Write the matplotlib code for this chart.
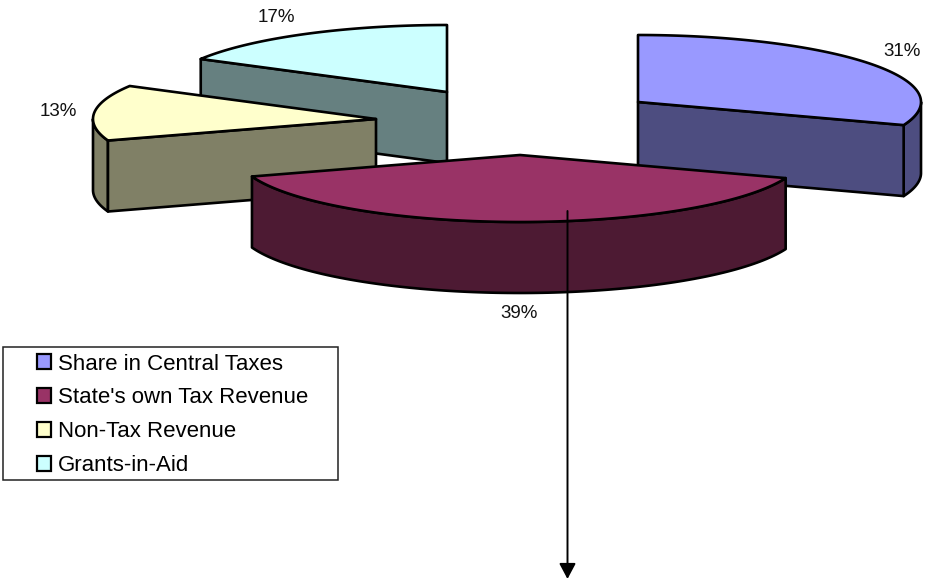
import numpy as np
import matplotlib
matplotlib.use("Agg")
import matplotlib.pyplot as plt
from matplotlib.patches import Polygon, Patch, Rectangle

plt.rcParams['font.family'] = ['Liberation Sans', 'DejaVu Sans']

categories = ["Share in Central Taxes", "State's own Tax Revenue", "Non-Tax Revenue", "Grants-in-Aid"]
values = [30.6, 39.2, 13.4, 16.8]
top_colors = ["#9999FF", "#993366", "#FFFFCC", "#CCFFFF"]
side_colors = ["#4D4D80", "#4D1A33", "#808066", "#668080"]

# apex of every exploded slice, in pixels
apex_x = [638, 520, 376, 447]
apex_y = [102, 155, 119, 92]
label_x = [902, 519, 58, 276]
label_y = [51, 313, 111, 17]
draw_order = [3, 2, 0, 1]

rx = 283
ry = 67
depth = 71
lw = 1.9

fig = plt.figure(figsize=(9.28, 5.87), dpi=100)
ax = fig.add_axes([0, 0, 1, 1])
ax.set_xlim(0, 928)
ax.set_ylim(587, 0)
ax.axis('off')


def rim(cx, cy, a, b):
    t = np.radians(np.linspace(a, b, 120))
    return cx + rx * np.sin(t), cy - ry * np.cos(t)


def side(xs, ys, color, z):
    xs = np.asarray(xs)
    ys = np.asarray(ys)
    pts = np.column_stack([np.r_[xs, xs[::-1]], np.r_[ys, ys[::-1] + depth]])
    ax.add_patch(Polygon(pts, closed=True, fc=color, ec='black', lw=lw, joinstyle='round', zorder=z))


edges = np.cumsum([0] + values) / sum(values) * 360
for i in draw_order:
    a, b = edges[i], edges[i + 1]
    cx, cy = apex_x[i], apex_y[i]
    z = draw_order.index(i) * 10 + 1
    # outer wall, only the part that faces the viewer
    lo, hi = max(a, 90), min(b, 270)
    if hi > lo:
        xs, ys = rim(cx, cy, lo, hi)
        side(xs, ys, side_colors[i], z)
    # cut faces
    if np.sin(np.radians(a)) < -1e-6:
        xs, ys = rim(cx, cy, a, a)
        side([xs[0], cx], [ys[0], cy], side_colors[i], z + 1)
    if np.sin(np.radians(b)) > 1e-6:
        xs, ys = rim(cx, cy, b, b)
        side([cx, xs[0]], [cy, ys[0]], side_colors[i], z + 1)
    xs, ys = rim(cx, cy, a, b)
    top = np.column_stack([np.r_[cx, xs], np.r_[cy, ys]])
    ax.add_patch(Polygon(top, closed=True, fc=top_colors[i], ec='black', lw=lw, joinstyle='round', zorder=z + 2))
    ax.text(label_x[i], label_y[i], "%.0f%%" % values[i], fontsize=13.5, color='#111111',
            ha='center', va='center', zorder=60)

# arrow from the big slice
ax.annotate("", xy=(567.5, 579), xytext=(567.5, 211),
            arrowprops=dict(arrowstyle='-|>,head_width=0.5,head_length=0.94', fc='black', ec='black',
                            lw=1.4, shrinkA=0, shrinkB=0), zorder=70)

# legend box
ax.add_patch(Rectangle((3.5, 346.5), 335, 133, fc='white', ec='#222222', lw=1.1, zorder=80))
handles = [Patch(fc=c, ec='black', lw=1.6) for c in top_colors]
leg = ax.legend(handles, categories, loc='upper left', bbox_to_anchor=(37 / 928, 1 - 353.5 / 587),
                bbox_transform=ax.transAxes, frameon=False, fontsize=16, handlelength=0.62,
                handleheight=0.62, handletextpad=0.33, labelspacing=0.58, borderpad=0, borderaxespad=0)
leg.set_zorder(90)

fig.savefig("out.png", dpi=100)
